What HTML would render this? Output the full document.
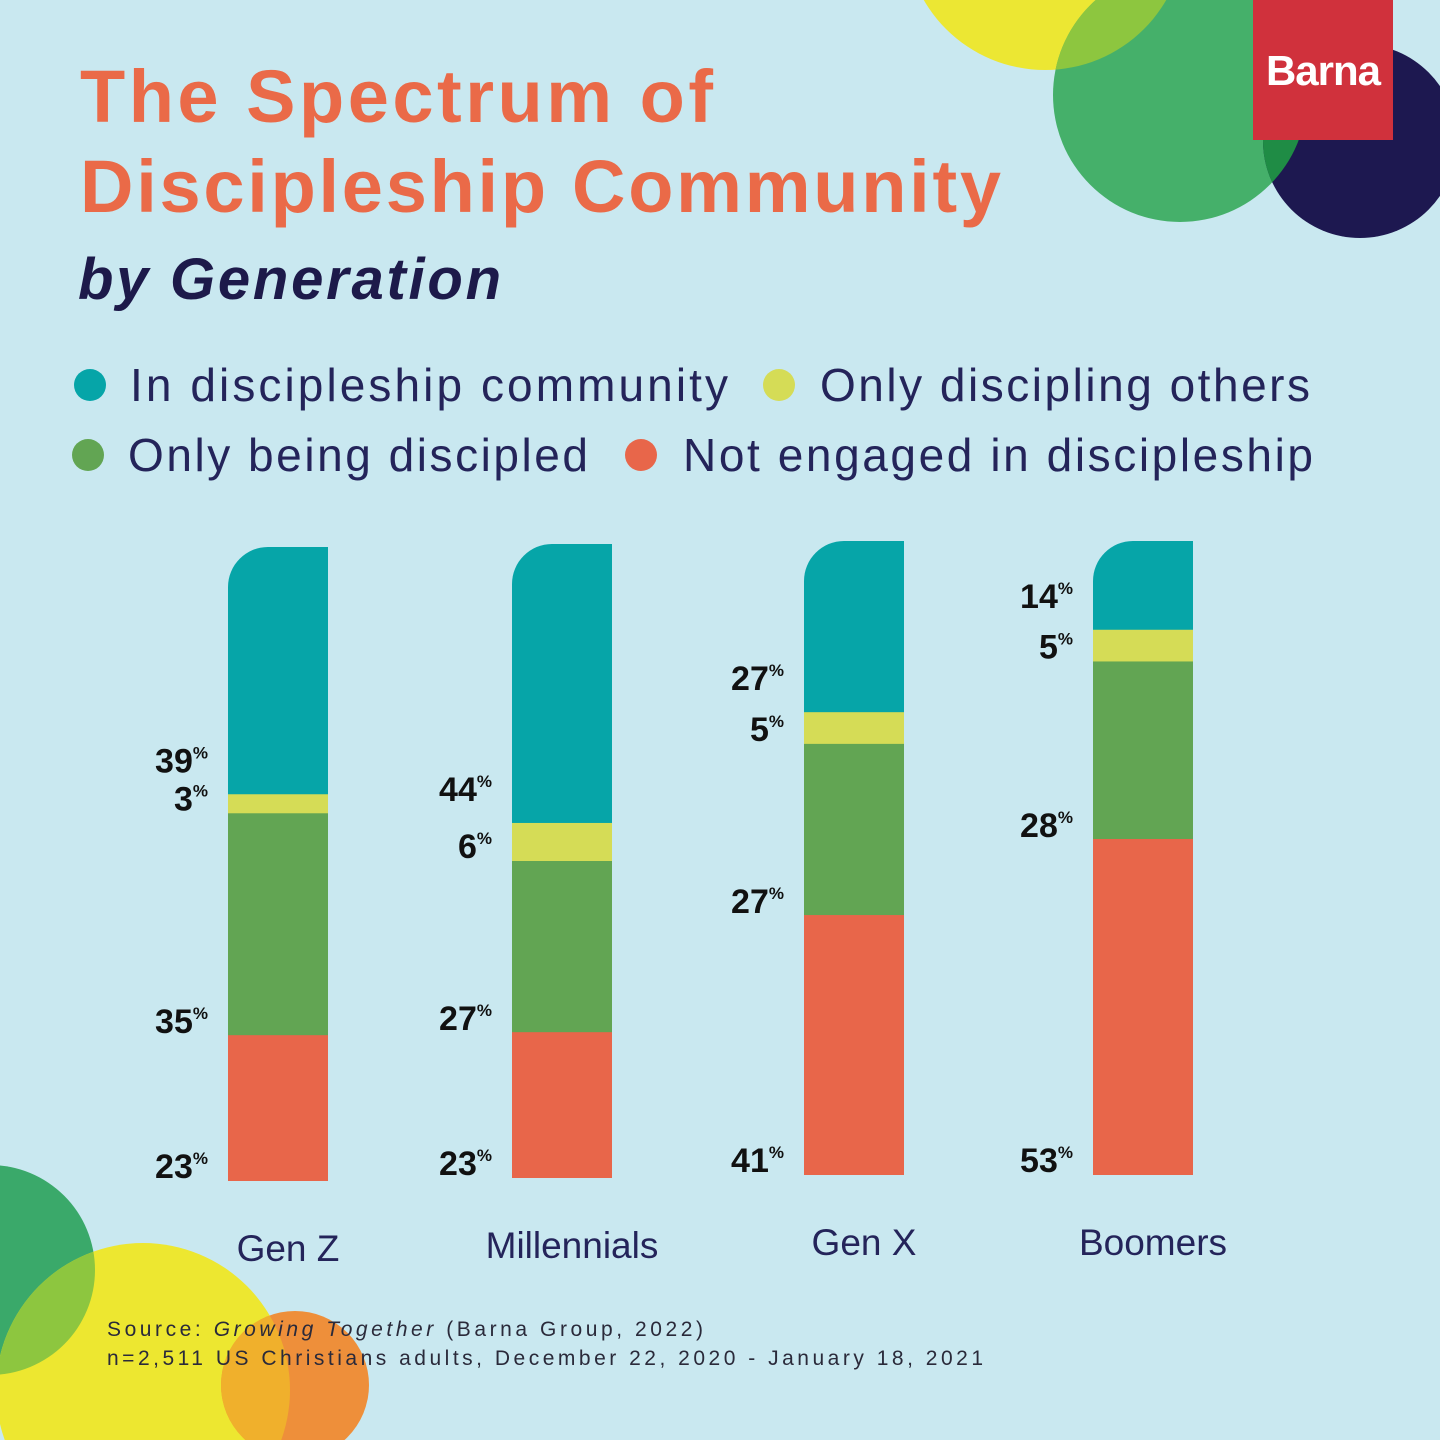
<!DOCTYPE html>
<html><head><meta charset="utf-8"><style>
html,body{margin:0;padding:0;background:#c9e8f0;width:1440px;height:1440px;overflow:hidden;}
svg{display:block;}
.t{font-family:"Liberation Sans",sans-serif;}
</style></head><body>
<svg id="c" width="1440" height="1440" viewBox="0 0 1440 1440" xmlns="http://www.w3.org/2000/svg">
<defs>
<clipPath id="cy1"><circle cx="1045" cy="-70" r="140"/></clipPath>
<clipPath id="cg1"><circle cx="1180" cy="95" r="127"/></clipPath>
<clipPath id="cy2"><circle cx="143" cy="1390" r="147"/></clipPath>
</defs>
<rect width="1440" height="1440" fill="#c9e8f0"/>
<g>
<circle cx="1045" cy="-70" r="140" fill="#ece733"/>
<circle cx="1180" cy="95" r="127" fill="#45b06a"/>
<circle cx="1180" cy="95" r="127" fill="#8dc63f" clip-path="url(#cy1)"/>
<circle cx="1360" cy="141" r="97" fill="#1d1850"/>
<circle cx="1360" cy="141" r="97" fill="#1f8c45" clip-path="url(#cg1)"/>
</g>
<g>
<rect x="1253" y="0" width="140" height="140" fill="#d0313c"/>
<text x="1323" y="85" text-anchor="middle" class="t" font-size="42" font-weight="bold" fill="#fff" letter-spacing="-1">Barna</text>
</g>
<g>
<circle cx="-10" cy="1270" r="105" fill="#3aa96a"/>
<circle cx="143" cy="1390" r="147" fill="#ede730"/>
<circle cx="-10" cy="1270" r="105" fill="#8dc63f" clip-path="url(#cy2)"/>
<circle cx="295" cy="1385" r="74" fill="#ee8f3a"/>
<circle cx="295" cy="1385" r="74" fill="#f0b02c" clip-path="url(#cy2)"/>
</g>
<text x="80" y="122" class="t" font-size="74" font-weight="bold" fill="#ea6a48" letter-spacing="3" textLength="636">The Spectrum of</text>
<text x="80" y="212" class="t" font-size="74" font-weight="bold" fill="#ea6a48" letter-spacing="3" textLength="924">Discipleship Community</text>
<text x="78" y="299" class="t" font-size="58" font-weight="bold" font-style="italic" fill="#1d1a4a" letter-spacing="2" textLength="425">by Generation</text>
<g>
<g><circle cx="90" cy="385" r="16" fill="#06a5a8"/><text x="130" y="401" class="t" font-size="46" fill="#24245a" textLength="598">In discipleship community</text></g>
<g><circle cx="779" cy="385" r="16" fill="#d5dc56"/><text x="820" y="401" class="t" font-size="46" fill="#24245a" textLength="490">Only discipling others</text></g>
<g><circle cx="88" cy="455" r="16" fill="#62a553"/><text x="128" y="471" class="t" font-size="46" fill="#24245a" textLength="460">Only being discipled</text></g>
<g><circle cx="641" cy="455" r="16" fill="#e8664a"/><text x="683" y="471" class="t" font-size="46" fill="#24245a" textLength="630">Not engaged in discipleship</text></g>
</g>
<g id="bars"></g>
<g>
<text x="107" y="1336" class="t" font-size="21" fill="#2a2a3a" textLength="596">Source: <tspan font-style="italic">Growing Together</tspan> (Barna Group, 2022)</text>
<text x="107" y="1365" class="t" font-size="21" fill="#2a2a3a" textLength="876">n=2,511 US Christians adults, December 22, 2020 - January 18, 2021</text>
</g>
</svg>
<script>
const categories = ["Gen Z","Millennials","Gen X","Boomers"];
const community = [39,44,27,14];
const discipling = [3,6,5,5];
const discipled = [35,27,27,28];
const notEngaged = [23,23,41,53];
const colors = ["#06a5a8","#d5dc56","#62a553","#e8664a"];
const segOffset = [34,15,14,15];
const barX = [228,512,804,1093];
const barTop = [547,544,541,541];
const BAR_W = 100, BAR_H = 634, NS = "http://www.w3.org/2000/svg";
const g = document.getElementById('bars');
function mk(tag, attrs){const e=document.createElementNS(NS,tag);for(const k in attrs)e.setAttribute(k,attrs[k]);return e;}
function yScale(i, pct){return barTop[i] + pct/100*BAR_H;}
categories.forEach((cat,i)=>{
  const series=[community[i],discipling[i],discipled[i],notEngaged[i]];
  const total=series.reduce((a,b)=>a+b,0);
  const grp=mk('g',{});
  
  
  const clipId='clip'+i;
  const cp=mk('clipPath',{id:clipId});
  const x=barX[i], y0=barTop[i], r=40;
  cp.appendChild(mk('path',{d:`M${x} ${y0+r} A${r} ${r} 0 0 1 ${x+r} ${y0} L${x+BAR_W} ${y0} L${x+BAR_W} ${y0+BAR_H} L${x} ${y0+BAR_H} Z`}));
  grp.appendChild(cp);
  let cum=0;
  series.forEach((v,s)=>{
    const ya=yScale(i,cum/total*100), yb=yScale(i,(cum+v)/total*100);
    const rect=mk('rect',{x:x,y:ya,width:BAR_W,height:yb-ya+0.5,fill:colors[s],'clip-path':`url(#${clipId})`});
    
    
    grp.appendChild(rect);
    const lbl=mk('text',{x:x-20,y:yb-segOffset[s]+12,'text-anchor':'end','font-size':34,'font-weight':'bold',fill:'#111',class:'t'});
    
    
    lbl.textContent=v;
    const sp=mk('tspan',{'font-size':17,dy:-14});sp.textContent='%';
    lbl.appendChild(sp);
    grp.appendChild(lbl);
    cum+=v;
  });
  const cl=mk('text',{x:x+BAR_W/2+10,y:y0+BAR_H+80,'text-anchor':'middle','font-size':37,fill:'#24245a',class:'t'});
  
  
  cl.textContent=cat;
  grp.appendChild(cl);
  g.appendChild(grp);
});
</script>
</body></html>
